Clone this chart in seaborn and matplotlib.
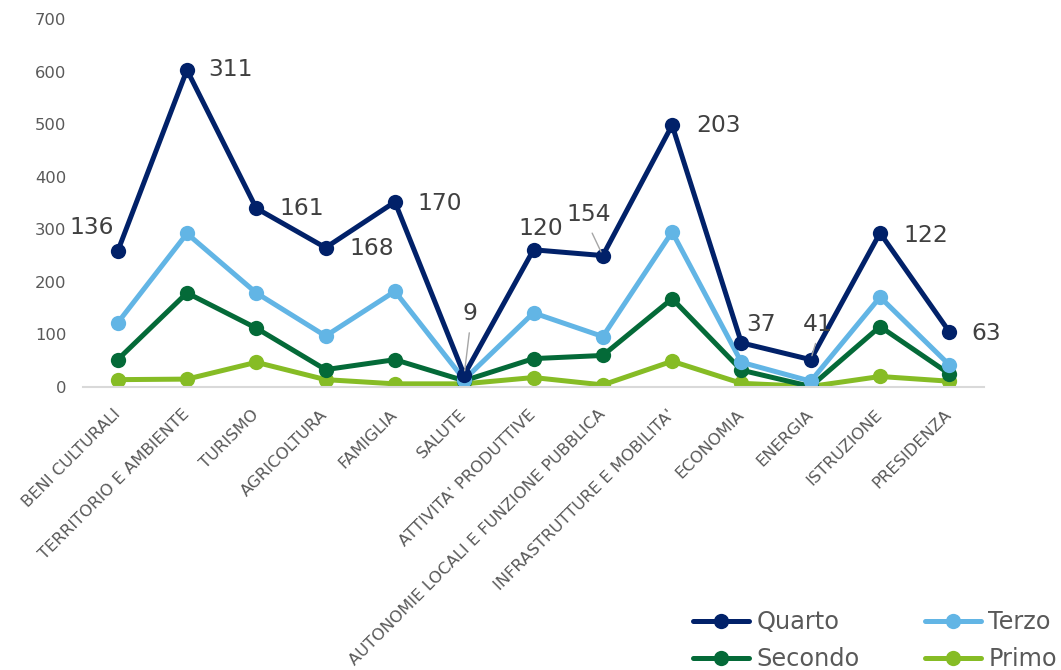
import numpy as np
import pandas as pd
import matplotlib
matplotlib.use("Agg")
import matplotlib.pyplot as plt
import seaborn as sns

# Ambiti tematici
categorie = [
    "BENI CULTURALI", "TERRITORIO E AMBIENTE", "TURISMO", "AGRICOLTURA",
    "FAMIGLIA", "SALUTE", "ATTIVITA' PRODUTTIVE",
    "AUTONOMIE LOCALI E FUNZIONE PUBBLICA", "INFRASTRUTTURE E MOBILITA'",
    "ECONOMIA", "ENERGIA", "ISTRUZIONE", "PRESIDENZA",
]

# Valori per quartile (serie impilate)
primo = [14, 15, 47, 14, 6, 6, 18, 4, 49, 7, 1, 20, 11]
secondo = [38, 164, 65, 19, 46, 6, 36, 56, 119, 25, 0, 95, 14]
terzo = [70, 113, 67, 64, 130, 2, 87, 36, 127, 15, 10, 56, 17]
quarto = [136, 311, 161, 168, 170, 9, 120, 154, 203, 37, 41, 122, 63]

serie = ["Primo", "Secondo", "Terzo", "Quarto"]
colori = {"Primo": "#86BC25", "Secondo": "#046A38",
          "Terzo": "#62B5E5", "Quarto": "#012169"}

valori = np.array([primo, secondo, terzo, quarto])
cumulati = np.cumsum(valori, axis=0)

df = pd.DataFrame({
    "ambito": categorie * len(serie),
    "serie": np.repeat(serie, len(categorie)),
    "valore": cumulati.ravel(),
})

sns.set_theme(style="white")
plt.rcParams["font.family"] = ["DejaVu Sans"]

fig = plt.figure(figsize=(10.61, 6.70), dpi=100)
ax = fig.add_axes([83 / 1061, 1 - 387 / 670, 901 / 1061, 368 / 670])

for s in serie:
    sub = df[df["serie"] == s]
    sns.lineplot(data=sub, x="ambito", y="valore", ax=ax, sort=False,
                 color=colori[s], linewidth=3.6, marker="o", markersize=11,
                 markeredgewidth=0, label=s)

ax.set_xlim(-0.5, len(categorie) - 0.5)
ax.set_ylim(0, 700)
ax.set_yticks(range(0, 701, 100))
ax.set_xlabel("")
ax.set_ylabel("")

for side in ["top", "right", "left"]:
    ax.spines[side].set_visible(False)
ax.spines["bottom"].set_color("#D9D9D9")
ax.spines["bottom"].set_linewidth(1.5)

ax.tick_params(axis="y", length=0, pad=12, labelsize=11.8, labelcolor="#595959")
ax.tick_params(axis="x", length=0, pad=18, labelsize=11.8, labelcolor="#595959")
for lab in ax.get_xticklabels():
    lab.set_rotation(45)
    lab.set_ha("right")
    lab.set_va("center")
    lab.set_rotation_mode("anchor")

# Etichette con il valore del quarto quartile
offset = [(-26, 24), (44, 0), (45, 0), (46, -1), (45, -2), (6, 61), (7, 21),
          (-14, 41), (46, 0), (20, 18), (7, 35), (46, -3), (37, -2)]
con_linea = {5, 7, 10}
top = cumulati[-1]
for i, (v, y) in enumerate(zip(quarto, top)):
    kw = {}
    if i in con_linea:
        kw["arrowprops"] = dict(arrowstyle="-", color="#A6A6A6", lw=1,
                                relpos=(0.5, 0.0), shrinkA=3, shrinkB=3)
    ax.annotate(str(v), xy=(i, y), xytext=offset[i],
                textcoords="offset pixels", ha="center", va="center",
                fontsize=16.8, color="#404040", **kw)

# Legenda su due colonne sotto il grafico
handles, labels = ax.get_legend_handles_labels()
h = dict(zip(labels, handles))
ordine = ["Quarto", "Secondo", "Terzo", "Primo"]
ax.legend([h[k] for k in ordine], ordine, ncol=2, frameon=False,
          loc="upper left", bbox_to_anchor=(693 / 1061, 1 - 610 / 670),
          bbox_transform=fig.transFigure, fontsize=17.3, labelcolor="#595959",
          handlelength=2.35, handletextpad=0.3, columnspacing=2.7,
          labelspacing=0.55, borderpad=0, borderaxespad=0)

fig.savefig("out.png", dpi=100)
